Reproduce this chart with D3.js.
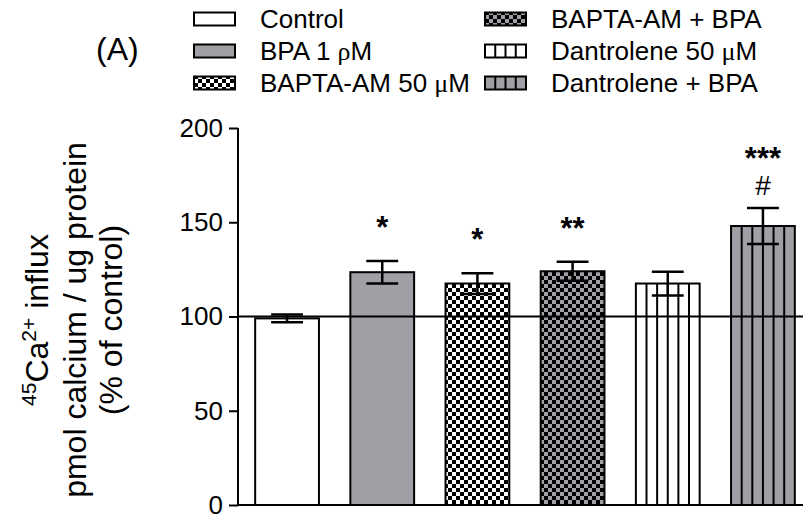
<!DOCTYPE html>
<html>
<head>
<meta charset="utf-8">
<script src="https://cdn.jsdelivr.net/npm/d3@7"></script>
<style>
  body { margin: 0; background: #fff; }
  text { font-family: 'Liberation Sans', Arial, sans-serif; fill: #000; }
</style>
</head>
<body>
<div id="chart"></div>
<script>
// data
const groups = ['Control', 'BPA 1 ρM', 'BAPTA-AM 50 μM', 'BAPTA-AM + BPA', 'Dantrolene 50 μM', 'Dantrolene + BPA']
const means = [99, 123.5, 117.5, 124, 117.5, 148]
const sems = [2, 6, 5.5, 5, 6.3, 9.6]
const starMarks = ['', '*', '*', '**', '', '***']
const hashMarks = ['', '', '', '', '', '#']
const yTicks = [0, 50, 100, 150, 200]

const WIDTH = 803
const HEIGHT = 517
const GRAY = '#a19fa5'

// fill style per group
const STYLE = {
    'Control': { fill: '#fff', lines: false },
    'BPA 1 ρM': { fill: GRAY, lines: false },
    'BAPTA-AM 50 μM': { fill: 'url(#checkWhite)', lines: false },
    'BAPTA-AM + BPA': { fill: 'url(#checkGray)', lines: false },
    'Dantrolene 50 μM': { fill: '#fff', lines: true },
    'Dantrolene + BPA': { fill: GRAY, lines: true },
}

const svg = d3.select('#chart')
    .append('svg')
    .attr('width', WIDTH)
    .attr('height', HEIGHT)

/**
 * Patterns
 */
const defs = svg.append('defs')
function checker(id, bg) {
    const p = defs.append('pattern')
        .attr('id', id)
        .attr('patternUnits', 'userSpaceOnUse')
        .attr('width', 8)
        .attr('height', 8)
    p.append('rect').attr('width', 8).attr('height', 8).attr('fill', bg)
    p.append('rect').attr('width', 4).attr('height', 4).attr('fill', '#000')
    p.append('rect').attr('x', 4).attr('y', 4).attr('width', 4).attr('height', 4).attr('fill', '#000')
}
checker('checkWhite', '#fff')
checker('checkGray', GRAY)

/**
 * Scales
 */
const x = d3.scaleBand()
    .domain(groups)
    .range([239, 811])
    .paddingInner(0.33)
    .paddingOuter(0.17)

const y = d3.scaleLinear()
    .domain([0, 200])
    .range([505, 128])

const AXIS_X = 238

/**
 * Bars
 */
const bars = svg.append('g')
groups.forEach((g, i) => {
    const bx = x(g)
    const bw = x.bandwidth()
    const top = y(means[i])
    bars.append('rect')
        .attr('x', bx)
        .attr('y', top)
        .attr('width', bw)
        .attr('height', y(0) - top)
        .attr('fill', STYLE[g].fill)
        .attr('stroke', '#000')
        .attr('stroke-width', 2)
    if (STYLE[g].lines) {
        d3.range(1, 6).forEach(k => {
            bars.append('line')
                .attr('x1', bx + k * bw / 6)
                .attr('x2', bx + k * bw / 6)
                .attr('y1', top)
                .attr('y2', y(0))
                .attr('stroke', '#000')
                .attr('stroke-width', 2)
        })
    }
})

/**
 * Reference line at 100 and axes
 */
svg.append('line')
    .attr('x1', AXIS_X)
    .attr('x2', WIDTH)
    .attr('y1', y(100))
    .attr('y2', y(100))
    .attr('stroke', '#000')
    .attr('stroke-width', 2)

svg.append('line')
    .attr('x1', AXIS_X)
    .attr('x2', WIDTH)
    .attr('y1', y(0))
    .attr('y2', y(0))
    .attr('stroke', '#000')
    .attr('stroke-width', 2)

const yAxis = svg.append('g')
    .attr('transform', `translate(${AXIS_X},0)`)
    .call(d3.axisLeft(y).tickValues(yTicks).tickSize(9).tickPadding(6).tickFormat(d3.format('d')))
yAxis.selectAll('path, line').attr('stroke', '#000').attr('stroke-width', 2)
yAxis.select('.domain').attr('d', `M0,${y(200)}V${y(0)}`)
yAxis.selectAll('text')
    .attr('font-size', 26)
    .attr('font-family', "'Liberation Sans', Arial, sans-serif")
    .attr('fill', '#000')

/**
 * Error bars
 */
const errs = svg.append('g')
groups.forEach((g, i) => {
    const cx = x(g) + x.bandwidth() / 2
    const cap = x.bandwidth() / 4
    const hi = y(means[i] + sems[i])
    const lo = y(means[i] - sems[i])
    errs.append('line').attr('x1', cx).attr('x2', cx).attr('y1', hi).attr('y2', lo)
    errs.append('line').attr('x1', cx - cap).attr('x2', cx + cap).attr('y1', hi).attr('y2', hi)
    errs.append('line').attr('x1', cx - cap).attr('x2', cx + cap).attr('y1', lo).attr('y2', lo)
})
errs.selectAll('line').attr('stroke', '#000').attr('stroke-width', 2.5)

/**
 * Significance marks
 */
groups.forEach((g, i) => {
    const cx = x(g) + x.bandwidth() / 2
    const hi = y(means[i] + sems[i])
    let base = hi - 23
    if (hashMarks[i]) {
        svg.append('text')
            .attr('x', cx)
            .attr('y', hi - 13)
            .attr('text-anchor', 'middle')
            .attr('font-size', 28)
            .text(hashMarks[i])
        base = hi - 39
    }
    if (starMarks[i]) {
        svg.append('text')
            .attr('x', cx)
            .attr('y', base)
            .attr('text-anchor', 'middle')
            .attr('font-size', 31)
            .attr('font-weight', 'bold')
            .text(starMarks[i])
    }
})

/**
 * Y axis title
 */
const yTitle = svg.append('text')
    .attr('transform', 'translate(0,320) rotate(-90)')
    .attr('text-anchor', 'middle')
    .attr('font-size', 32)
const l1 = yTitle.append('tspan').attr('x', 0).attr('y', 48)
l1.append('tspan').attr('font-size', 21).attr('dy', -12).text('45')
l1.append('tspan').attr('dy', 12).text('Ca')
l1.append('tspan').attr('font-size', 21).attr('dy', -12).text('2+')
l1.append('tspan').attr('dy', 12).text(' influx')
yTitle.append('tspan').attr('x', 0).attr('y', 86).text('pmol calcium / ug protein')
yTitle.append('tspan').attr('x', 0).attr('y', 122).text('(% of control)')

/**
 * Panel label
 */
svg.append('text')
    .attr('x', 96)
    .attr('y', 60)
    .attr('font-size', 32)
    .text('(A)')

/**
 * Legend
 */
const legendCols = [194, 485]
const legendRows = [19, 51, 83]
const SW = 41
const SH = 13
groups.forEach((g, i) => {
    const lx = legendCols[Math.floor(i / 3)]
    const ly = legendRows[i % 3]
    const item = svg.append('g').attr('transform', `translate(${lx},${ly})`)
    item.append('rect')
        .attr('x', 0)
        .attr('y', -SH / 2)
        .attr('width', SW)
        .attr('height', SH)
        .attr('fill', STYLE[g].fill)
        .attr('stroke', '#000')
        .attr('stroke-width', 2)
    if (STYLE[g].lines) {
        d3.range(1, 4).forEach(k => {
            item.append('line')
                .attr('x1', k * SW / 4)
                .attr('x2', k * SW / 4)
                .attr('y1', -SH / 2)
                .attr('y2', SH / 2)
                .attr('stroke', '#000')
                .attr('stroke-width', 2)
        })
    }
    // greek letters in a serif face, like the symbol font in the source
    const parts = g.split(/([μρ])/)
    const t = item.append('text')
        .attr('x', 66)
        .attr('y', 9)
        .attr('font-size', 26)
    parts.forEach(p => {
        if (!p) return
        const s = t.append('tspan').text(p)
        if (p === 'μ' || p === 'ρ') s.attr('font-family', "'Liberation Serif', serif")
    })
})
</script>
</body>
</html>
